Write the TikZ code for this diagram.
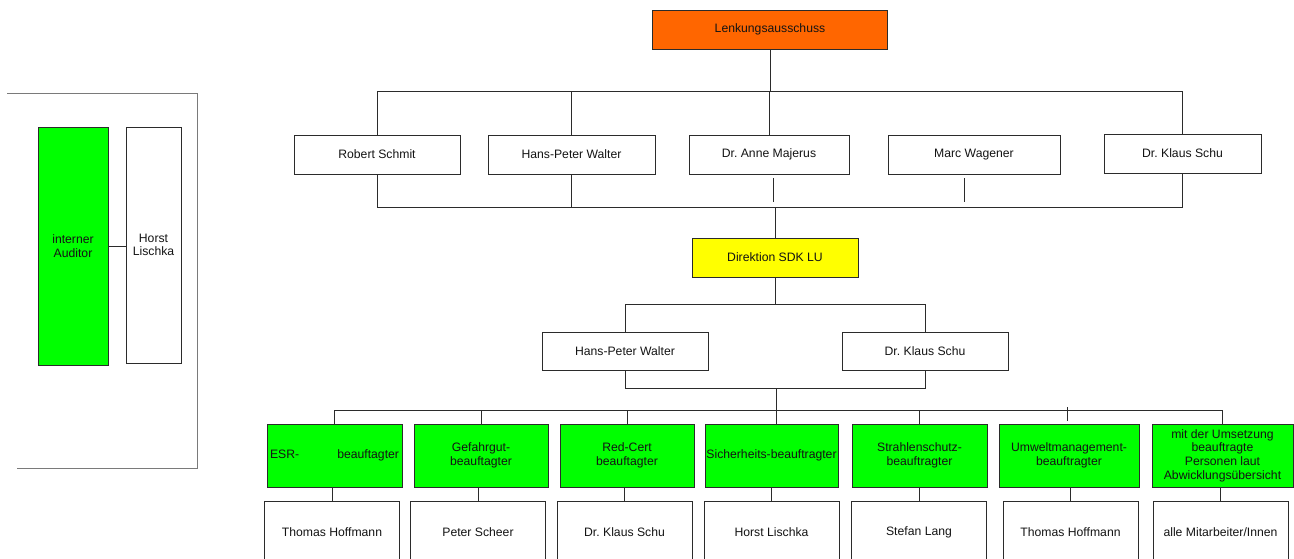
\documentclass[tikz,border=0pt]{standalone}
\usepackage{fontspec}
\setmainfont{Liberation Sans}
\usepackage{tikz}
\frenchspacing
\definecolor{lenkorange}{HTML}{FF6600}
\definecolor{dirgelb}{HTML}{FFFF00}
\definecolor{rollegruen}{HTML}{00FF00}
\definecolor{linie}{HTML}{2B2B2B}
\definecolor{rahmen}{HTML}{7A7A7A}
\begin{document}
\begin{tikzpicture}[x=1pt,y=-1pt,
	orgbox/.style={draw=linie,line width=0.8pt,inner sep=0pt,align=center,text=black!92,font=\fontsize{12.2}{13.7}\selectfont},
	person/.style={orgbox,fill=white,minimum height=39},
	rolle/.style={orgbox,fill=rollegruen,minimum height=63},
	conn/.style={linie,line width=0.8pt}]
	\useasboundingbox (0,0) rectangle (1294,558);
	\clip (0,0) rectangle (1294,558);
	% Lenkungsausschuss und Mitglieder
	\node[orgbox,fill=lenkorange,minimum width=235,minimum height=39] (lenk) at (770,29.5) {Lenkungsausschuss};
	\node[person,minimum width=166] (rs) at (377,154.5) {Robert Schmit};
	\node[person,minimum width=167] (hpw) at (571.5,154.5) {Hans-Peter Walter};
	\node[person,minimum width=160] (am) at (769,154.5) {Dr. Anne Majerus};
	\node[person,minimum width=172] (mw) at (974,154.5) {Marc Wagener};
	\node[person,minimum width=157] (ks) at (1182.5,153.5) {Dr. Klaus Schu};
	\draw[conn] (rs.north) -- ++(0,-43) coordinate (tl) -| (ks.north);
	\draw[conn] (lenk.south) -- (lenk.south |- tl);
	\draw[conn] (hpw.north) -- (hpw.north |- tl);
	\draw[conn] (am.north) -- (am.north |- tl);
	\draw[conn] (rs.south) -- ++(0,33) coordinate (bl) -| (ks.south);
	\draw[conn] (hpw.south) -- (hpw.south |- bl);
	\draw[conn] (am.south) ++(4,4) -- ++(0,24);
	\draw[conn] (mw.south) ++(-10,4) -- ++(0,24);
	% Direktion
	\node[orgbox,fill=dirgelb,minimum width=166,minimum height=39] (dir) at (775,257.5) {Direktion SDK LU};
	\draw[conn] (dir.north |- bl) -- (dir.north);
	\node[person,minimum width=166,minimum height=38] (hpw2) at (625,351) {Hans-Peter Walter};
	\node[person,minimum width=166,minimum height=38] (ks2) at (925,351) {Dr. Klaus Schu};
	\draw[conn] (dir.south) -- ++(0,27) coordinate (db);
	\draw[conn] (hpw2.north) |- (db) -| (ks2.north);
	\draw[conn] (hpw2.south) -- ++(0,18) coordinate (lb) -| (ks2.south);
	\coordinate (gb) at (776,410);
	\draw[conn] (gb |- lb) -- (gb);
	% Beauftragte
	\foreach \n/\x/\w/\t in {esr/334.5/135/{\makebox[129pt]{ESR-\hfill beauftagter}},
		gef/481/134/{Gefahrgut-\\beauftagter},
		red/627/134/{Red-Cert\\beauftagter},
		sich/771.5/133/{Sicherheits-beauftragter},
		strahl/919.5/135/{Strahlenschutz-\\beauftragter},
		umwelt/1069/140/{Umweltmanagement-\\beauftragter},
		mit/1222.5/141/{mit der Umsetzung\\beauftragte\\Personen laut\\Abwicklungsübersicht}}
		\node[rolle,minimum width=\w] (\n) at (\x,455.5) {\t};
	\draw[conn] (esr.north |- gb) -- (mit.north |- gb);
	\foreach \n in {esr,gef,red,strahl,mit}
		\draw[conn] (\n.north) -- (\n.north |- gb);
	\draw[conn] (gb) -- (gb |- sich.north);
	\draw[conn] (umwelt.north) ++(-2,-3) -- ++(0,-14);
	\foreach \n/\r/\x/\t in {th1/esr/332/Thomas Hoffmann,
		ps/gef/478/Peter Scheer,
		ks3/red/624.5/Dr. Klaus Schu,
		hl/sich/771.5/Horst Lischka,
		sl/strahl/919/Stefan Lang,
		th2/umwelt/1070.5/Thomas Hoffmann,
		alle/mit/1220.5/{alle Mitarbeiter/Innen}}
	{
		\node[person,minimum width=135,minimum height=62] (\n) at (\x,532) {\t};
		\draw[conn] (\n.north) -- (\n.north |- \r.south);
	}
	% interner Auditor
	\draw[rahmen,line width=0.8pt] (7,93) -- (197,93) -- (197,468) -- (17,468);
	\node[orgbox,fill=rollegruen,minimum width=70,minimum height=238] (aud) at (73,246) {interner\\Auditor};
	\node[orgbox,fill=white,minimum width=55,minimum height=236] (hl0) at (153.5,245) {Horst\\Lischka};
	\draw[conn] (aud.east) -- (aud.east -| hl0.west);
\end{tikzpicture}
\end{document}
